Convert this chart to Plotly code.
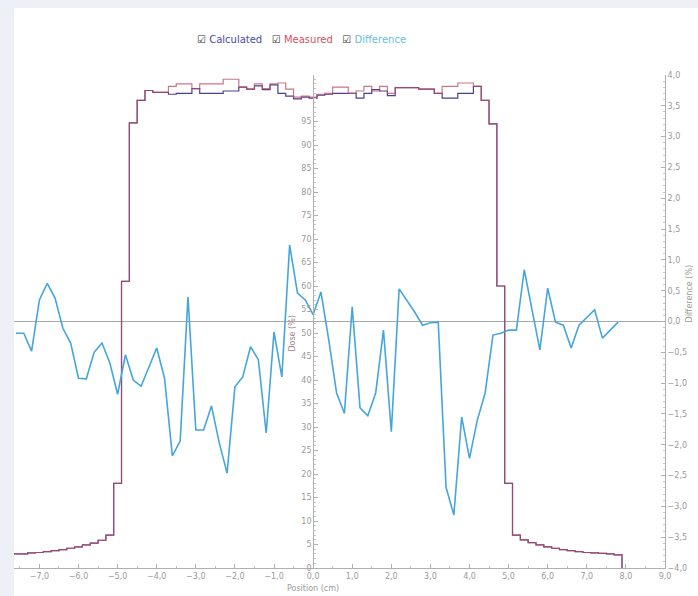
import plotly.graph_objects as go

# Dose profile bins (left edges, 0.2 cm wide), values in %
dose_edges = [round(-7.7 + 0.2 * i, 1) for i in range(79)]
measured = [3.0, 3.0, 3.2, 3.3, 3.5, 3.7, 3.9, 4.2, 4.5, 4.9, 5.3, 5.9, 7.0, 18.0, 61.0, 94.7,
            99.5, 101.6, 101.2, 101.2, 102.5, 103.0, 103.0, 102.0, 103.0, 103.0, 103.0, 104.0,
            104.0, 102.3, 101.9, 103.0, 102.0, 103.0, 103.2, 101.9, 100.2, 100.4, 100.2, 100.8,
            101.0, 102.3, 102.3, 101.0, 101.5, 102.5, 101.5, 102.5, 101.0, 102.2, 102.2, 102.2,
            101.9, 101.9, 101.0, 102.5, 102.5, 103.2, 103.2, 102.5, 99.5, 94.5, 60.0, 18.0,
            7.0, 6.0, 5.4, 4.9, 4.5, 4.2, 3.9, 3.7, 3.5, 3.3, 3.2, 3.1, 3.0, 2.8, 0.0]
calculated = [3.0, 3.0, 3.2, 3.3, 3.5, 3.7, 3.9, 4.2, 4.5, 4.9, 5.3, 5.9, 7.0, 18.0, 61.0, 94.7,
              99.5, 101.6, 101.2, 101.2, 100.8, 101.0, 101.0, 102.0, 101.0, 101.0, 101.0, 101.5,
              101.5, 102.3, 101.9, 102.6, 101.8, 102.8, 101.0, 100.4, 99.8, 100.2, 100.0, 100.6,
              100.8, 101.0, 101.0, 101.0, 100.0, 101.0, 101.8, 101.5, 100.5, 102.2, 102.2, 102.2,
              101.9, 101.9, 101.0, 100.0, 100.0, 101.0, 101.0, 102.5, 99.5, 94.5, 60.0, 18.0,
              7.0, 6.0, 5.4, 4.9, 4.5, 4.2, 3.9, 3.7, 3.5, 3.3, 3.2, 3.1, 3.0, 2.8, 0.0]

# Difference (%) sampled every 0.2 cm
difference = [-0.19, -0.19, -0.48, 0.35, 0.62, 0.38, -0.11, -0.35, -0.92, -0.93, -0.50, -0.35,
              -0.67, -1.18, -0.54, -0.95, -1.05, -0.74, -0.43, -0.92, -2.18, -1.94, 0.40, -1.76,
              -1.76, -1.37, -1.97, -2.46, -1.06, -0.90, -0.41, -0.62, -1.81, -0.17, -0.90, 1.24,
              0.46, 0.35, 0.11, 0.48, -0.30, -1.16, -1.49, 0.24, -1.40, -1.53, -1.16, -0.14,
              -1.79, 0.53, 0.35, 0.15, -0.06, -0.02, -0.01, -2.69, -3.14, -1.55, -2.22, -1.60,
              -1.16, -0.22, -0.19, -0.14, -0.14, 0.84, 0.19, -0.46, 0.54, -0.01, -0.06, -0.43,
              -0.06, 0.06, 0.19, -0.27, -0.14, -0.01]
diff_x = [round(-7.6 + 0.2 * i, 1) for i in range(len(difference))]

dose_ticks = list(range(0, 100, 5))

FONT = "DejaVu Sans"
TICKC = "#9a9a9a"

fig = go.Figure()
fig.add_trace(go.Scatter(x=dose_edges, y=calculated, mode="lines", line=dict(shape="hv", color="#4c3f90", width=1.2),
                         name="Calculated", yaxis="y"))
fig.add_trace(go.Scatter(x=dose_edges, y=measured, mode="lines", line=dict(shape="hv", color="#b84a64", width=1.2),
                         name="Measured", yaxis="y", opacity=0.75))
fig.add_trace(go.Scatter(x=diff_x, y=difference, mode="lines", line=dict(color="#45a6dc", width=1.6),
                         name="Difference", yaxis="y2"))

x_range = [-7.65, 9.0]
pos0 = (0 - x_range[0]) / (x_range[1] - x_range[0])

fig.update_layout(
    width=698, height=596,
    margin=dict(l=14, r=33, t=75, b=28),
    paper_bgcolor="#eef0f8",
    plot_bgcolor="white",
    showlegend=False,
    separators=",.",
    font=dict(family=FONT, size=8, color=TICKC),
    xaxis=dict(range=x_range, dtick=1, tick0=0, tickformat=".1f", ticks="inside", ticklen=4,
               tickcolor="#b0b0b0", showline=True, linecolor="#b0b0b0", showgrid=False, zeroline=False,
               minor=dict(dtick=0.5, tick0=0, ticks="inside", ticklen=2, tickcolor="#c0c0c0"),
               tickfont=dict(size=8, color=TICKC)),
    yaxis=dict(range=[0, 104.9], tickmode="array", tickvals=dose_ticks, anchor="free", position=pos0,
               side="left", ticks="inside", ticklen=4, tickcolor="#b0b0b0", showline=True,
               linecolor="#b0b0b0", showgrid=False, zeroline=False,
               minor=dict(tickmode="linear", tick0=0, dtick=1, ticks="inside", ticklen=2, tickcolor="#c8c8c8"),
               tickfont=dict(size=8, color=TICKC)),
    yaxis2=dict(range=[-4, 4], dtick=0.5, tick0=0, tickformat=".1f", overlaying="y", side="right",
                anchor="x", ticks="inside", ticklen=4, tickcolor="#b0b0b0", showline=True,
                linecolor="#b0b0b0", showgrid=False, zeroline=False,
                minor=dict(dtick=0.1, tick0=0, ticks="inside", ticklen=2, tickcolor="#c8c8c8"),
                tickfont=dict(size=8, color=TICKC)),
    shapes=[
        dict(type="rect", xref="paper", yref="paper", x0=0, x1=1.06, y0=-0.06, y1=1.136,
             fillcolor="white", line=dict(width=0), layer="below"),
        dict(type="line", xref="paper", yref="y2", x0=0, x1=1, y0=0, y1=0,
             line=dict(color="#a8a8a8", width=1), layer="below"),
    ],
    annotations=[
        dict(xref="paper", yref="paper", x=0.442, y=1.071, showarrow=False, xanchor="center", yanchor="middle",
             text="<span style='color:#333'>☑</span> <span style='color:#4b4ba8'>Calculated</span>   "
                  "<span style='color:#333'>☑</span> <span style='color:#d9505f'>Measured</span>   "
                  "<span style='color:#333'>☑</span> <span style='color:#66bde6'>Difference</span>",
             font=dict(family=FONT, size=10)),
        dict(xref="x", yref="paper", x=0, y=-0.042, showarrow=False, xanchor="center", yanchor="middle",
             text="Position (cm)", font=dict(family=FONT, size=8, color=TICKC)),
        dict(xref="x", yref="y", x=-0.55, y=50, showarrow=False, textangle=-90,
             text="Dose (%)", font=dict(family=FONT, size=8, color="#a88090")),
        dict(xref="paper", yref="y2", x=1.038, y=0.45, showarrow=False, textangle=-90, xanchor="center",
             text="Difference (%)", font=dict(family=FONT, size=8, color=TICKC)),
    ],
)

fig.write_html("out.html", config={"displayModeBar": False},
               post_script="document.body.style.margin='0px';document.body.style.background='#eef0f8';")
